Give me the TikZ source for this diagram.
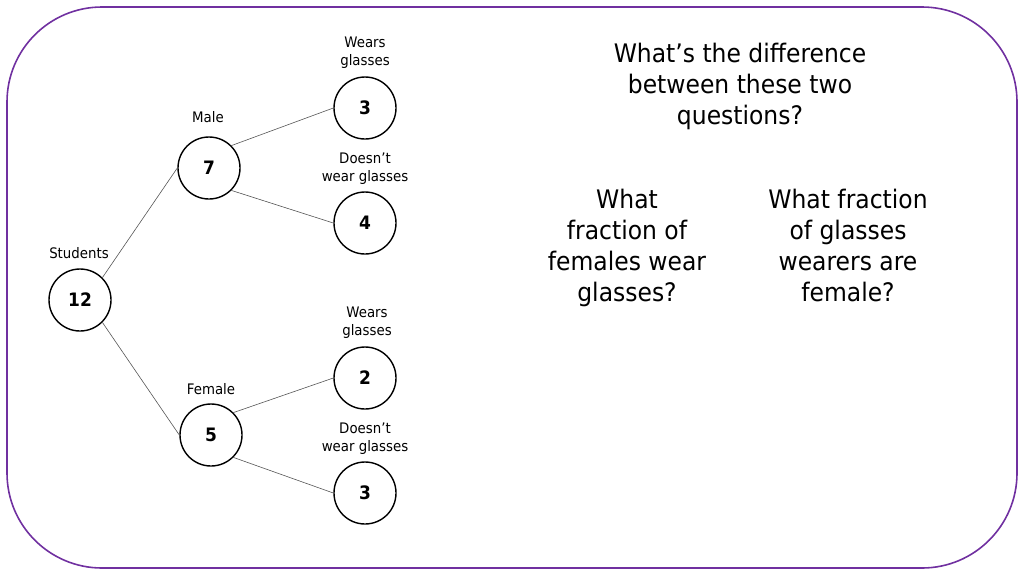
\documentclass[tikz,border=0pt]{standalone}
\usepackage{fontspec}
\setmainfont{DejaVu Sans}[FakeStretch=0.92]
\usepackage{tikz}
\usetikzlibrary{positioning}
\definecolor{frame}{HTML}{7030A0}
\definecolor{branch}{HTML}{555555}
\tikzset{
  every node/.style={inner sep=0pt, align=center},
  count/.style={
    circle, draw=black, line width=1.4pt, fill=white,
    minimum size=62pt,
    font=\bfseries\fontsize{18.5}{19}\selectfont
  },
  tag/.style={font=\fontsize{14.5}{18}\selectfont},
  ask/.style={font=\fontsize{25.5}{31}\selectfont},
  edge/.style={draw=branch, line width=0.6pt},
}
\begin{document}
\begin{tikzpicture}[x=1pt,y=-1pt]
  \useasboundingbox (0,0) rectangle (1024,576);
  \draw[frame, line width=1.6pt, rounded corners=95pt] (7,7) rectangle (1017,568);
  % tree
  \node[count] (n12) at (80,300) {12};
  \node[count] (m7) at (209,168) {7};
  \node[count] (f5) at (211,435) {5};
  \node[count] (mg) at (365,108) {3};
  \node[count] (mn) at (365,223) {4};
  \node[count] (fg) at (365,378) {2};
  \node[count] (fn) at (365,493) {3};
  \draw[edge] (n12.north east) -- (m7.west);
  \draw[edge] (n12.south east) -- (f5.west);
  \draw[edge] (m7.north east) -- (mg.west);
  \draw[edge] (m7.south east) -- (mn.west);
  \draw[edge] (f5.north east) -- (fg.west);
  \draw[edge] (f5.south east) -- (fn.west);
  % labels
  \node[tag] (lstud) at (79,253) {Students};
  \node[tag] (lmale) at (208,117) {Male};
  \node[tag] (lfem) at (211,389) {Female};
  \node[tag] (lmg) at (365,53) {Wears\\glasses};
  \node[tag] (lmn) at (365,169) {Doesn’t\\wear glasses};
  \node[tag] (lfg) at (367,323) {Wears\\glasses};
  \node[tag] (lfn) at (365,439) {Doesn’t\\wear glasses};
  % questions
  \node[ask] (qhead) at (740,86) {What’s the difference\\between these two\\questions?};
  \node[ask] (qleft) at (627,248) {What\\fraction of\\females wear\\glasses?};
  \node[ask] (qright) at (848,245) {What fraction\\of glasses\\wearers are\\female?};
\end{tikzpicture}
\end{document}
